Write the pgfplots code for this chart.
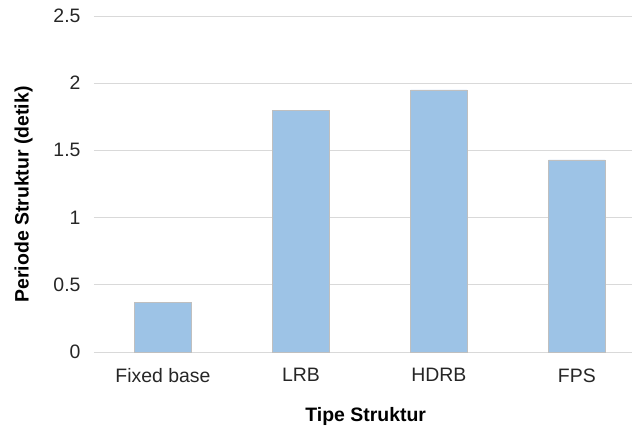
\documentclass[border=0pt]{standalone}
\usepackage{fontspec}
\setmainfont{Liberation Sans}
\usepackage{pgfplots}
\pgfplotsset{compat=1.18}
\definecolor{barblue}{RGB}{157,195,230}
\definecolor{gridgray}{RGB}{217,217,217}
\begin{document}
\begin{tikzpicture}
\begin{axis}[
  name=ax,
  scale only axis,
  width=538bp, height=336bp,
  xmin=-0.5, xmax=3.4,
  ymin=0, ymax=2.5,
  ytick={0,0.5,...,2.5},
  xtick={0,1,2,3},
  xticklabels={Fixed base,LRB,HDRB,FPS},
  axis line style={draw=none},
  major tick length=0pt,
  ymajorgrids,
  grid style={gridgray, line width=1bp},
  /pgf/number format/assume math mode=true,
  yticklabel style={anchor=east, xshift=-10bp},
  tick label style={font=\fontsize{19.5}{23}\selectfont, text=black!85},
  xticklabel style={yshift=-13bp},
  label style={font=\fontsize{19.5}{23}\selectfont\bfseries, text=black},
  xlabel={Tipe Struktur},
  ylabel={Periode Struktur (detik)},
  xlabel style={at={(axis description cs:0.505,-0.1926)}, anchor=center},
  ylabel style={at={(axis description cs:-0.131,0.469)}, anchor=center},
  clip=false,
]
\addplot[ybar, bar width=0.41, fill=barblue, draw=black!25, line width=0.6bp]
  coordinates {(0,0.37) (1,1.80) (2,1.95) (3,1.43)};
\end{axis}
\pgfresetboundingbox
\path[use as bounding box] ([xshift=-94bp,yshift=-77bp]ax.south west) rectangle ([xshift=2bp,yshift=16bp]ax.north east);
\end{tikzpicture}
\end{document}
